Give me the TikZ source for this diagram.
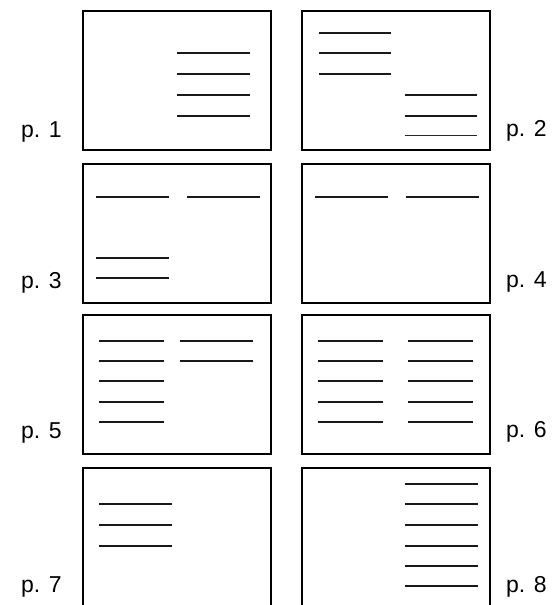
\documentclass[tikz,border=0pt]{standalone}
\usepackage{fontspec}
\setmainfont{Liberation Sans}
\begin{document}
\begin{tikzpicture}[x=1bp,y=-1bp,
  page/.style={draw=black,line width=2.2bp,minimum width=188bp,minimum height=139bp,inner sep=0pt,anchor=north west},
  tline/.style={line width=1.4bp,draw=black!90},
  plabel/.style={font=\fontsize{23bp}{27bp}\selectfont,inner sep=0pt,anchor=base west}]
\useasboundingbox (0,0) rectangle (557,605);
% pages
\node[page] (b1) at (82,10) {};
\node[page] (b2) at (301,10) {};
\node[page] (b3) at (82,163) {};
\node[page] (b4) at (301,163) {};
\node[page] (b5) at (82,314) {};
\node[page] (b6) at (301,314) {};
\node[page,minimum height=145bp] (b7) at (82,467) {};
\node[page,minimum height=145bp] (b8) at (301,467) {};
% labels
\node[plabel] (l1) at (21,138) {p. 1};
\node[plabel] (l2) at (506,137) {p. 2};
\node[plabel] (l3) at (21,288) {p. 3};
\node[plabel] (l4) at (506,287) {p. 4};
\node[plabel] (l5) at (21,438) {p. 5};
\node[plabel] (l6) at (506,437) {p. 6};
\node[plabel] (l7) at (21,592) {p. 7};
\node[plabel] (l8) at (506,592) {p. 8};
% p.1
\foreach \y in {53,74,95,116} \draw[tline] (177,\y) -- (250,\y);
% p.2
\foreach \y in {33,53,74} \draw[tline] (319,\y) -- (391,\y);
\foreach \y in {95,116} \draw[tline] (405,\y) -- (477,\y);
\draw[line width=0.9bp,draw=black!85] (405,135) -- (477,135);
% p.3
\draw[tline] (96,197) -- (169,197);
\draw[tline] (187,197) -- (260,197);
\foreach \y in {258,278} \draw[tline] (96,\y) -- (169,\y);
% p.4
\draw[tline] (315,197) -- (388,197);
\draw[tline] (406,197) -- (479,197);
% p.5
\foreach \y in {341,361,381,402,422} \draw[tline] (99,\y) -- (164,\y);
\foreach \y in {341,361} \draw[tline] (180,\y) -- (253,\y);
% p.6
\foreach \y in {341,361,381,402,422} {
  \draw[tline] (318,\y) -- (383,\y);
  \draw[tline] (408,\y) -- (473,\y);
}
% p.7
\foreach \y in {504,525,546} \draw[tline] (99,\y) -- (172,\y);
% p.8
\foreach \y in {484,504,525,546,566,586} \draw[tline] (405,\y) -- (478,\y);
\end{tikzpicture}
\end{document}
